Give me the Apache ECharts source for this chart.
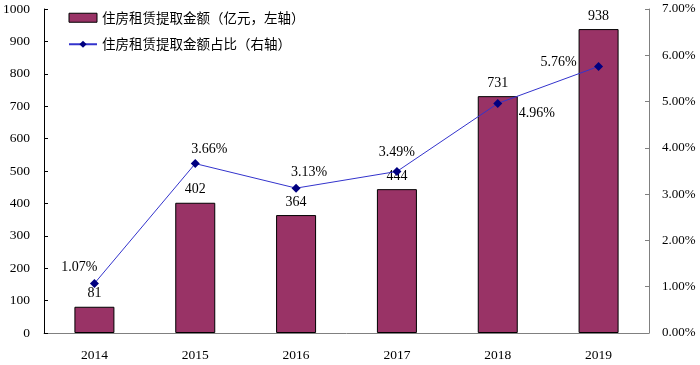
<!DOCTYPE html>
<html><head><meta charset="utf-8">
<script src="https://cdn.jsdelivr.net/npm/echarts@6/dist/echarts.min.js"></script>
<style>html,body{margin:0;padding:0;background:#fff}#c{width:700px;height:365px}</style>
</head><body><div id="c"></div>
<script>
const categories = ['2014','2015','2016','2017','2018','2019'];
const amounts = [81, 402, 364, 444, 731, 938];
const shares = [1.07, 3.66, 3.13, 3.49, 4.96, 5.76];
const leftTicks = {min: 0, max: 1000, interval: 100};
const rightTicks = {min: 0, max: 7, interval: 1};
const shareLabelOffsets = [[-15,-16],[14,-14],[13,-16],[0,-19],[39,10],[-40,-4]];

const serif = '"Liberation Serif","Times New Roman",serif';
const cjk = '"Noto Sans CJK SC",sans-serif';

const chart = echarts.init(document.getElementById('c'));
chart.setOption({
  animation: false,
  grid: {left: 41, right: 51, top: 9, bottom: 32},
  legend: {
    orient: 'vertical', left: 63, top: 6, itemWidth: 28, itemHeight: 9, itemGap: 13,
    textStyle: {fontFamily: cjk, fontSize: 13.5, color: '#000'},
    data: [
      {name: '住房租赁提取金额（亿元，左轴）', icon: 'rect', itemStyle: {borderWidth: 1, borderColor: '#000'}},
      {name: '住房租赁提取金额占比（右轴）'}
    ]
  },
  xAxis: {
    type: 'category', data: categories,
    axisLine: {lineStyle: {color: '#808080', width: 1}},
    axisTick: {inside: true, length: 4, lineStyle: {color: '#808080'}},
    axisLabel: {fontFamily: serif, fontSize: 13.5, color: '#000', margin: 15}
  },
  yAxis: [
    {type: 'value', min: leftTicks.min, max: leftTicks.max, interval: leftTicks.interval,
     splitLine: {show: false},
     axisLine: {show: true, lineStyle: {color: '#000'}},
     axisTick: {show: true, inside: true, length: 4, lineStyle: {color: '#000'}},
     axisLabel: {fontFamily: serif, fontSize: 13.5, color: '#000', margin: 14,
       formatter: v => String(v)}},
    {type: 'value', min: rightTicks.min, max: rightTicks.max, interval: rightTicks.interval,
     splitLine: {show: false},
     axisLine: {show: true, lineStyle: {color: '#808080'}},
     axisTick: {show: true, inside: true, length: 4, lineStyle: {color: '#808080'}},
     axisLabel: {fontFamily: serif, fontSize: 13, color: '#000', margin: 13,
       formatter: v => v.toFixed(2) + '%'}}
  ],
  series: [
    {name: '住房租赁提取金额（亿元，左轴）', type: 'bar', yAxisIndex: 0, barWidth: 40,
     data: amounts,
     itemStyle: {color: '#993366', borderColor: '#000', borderWidth: 1},
     label: {show: true, position: 'top', distance: 6, fontFamily: serif, fontSize: 14, color: '#000'}},
    {name: '住房租赁提取金额占比（右轴）', type: 'line', yAxisIndex: 1,
     data: shares.map((v, i) => ({value: v, label: {offset: shareLabelOffsets[i]}})),
     symbol: 'diamond', symbolSize: 9,
     lineStyle: {color: '#3333cc', width: 1},
     itemStyle: {color: '#000080'},
     label: {show: true, position: 'inside', align: 'center', verticalAlign: 'middle',
       fontFamily: serif, fontSize: 14, color: '#000',
       formatter: p => p.value.toFixed(2) + '%'}}
  ]
});
</script></body></html>
